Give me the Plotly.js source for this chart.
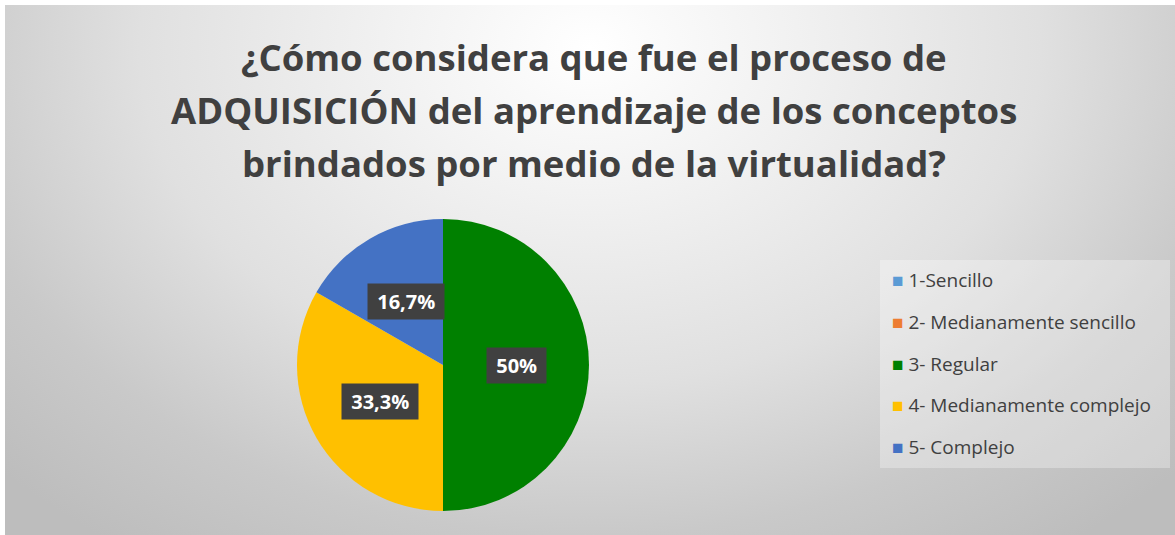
<!DOCTYPE html>
<html>
<head>
<meta charset="utf-8">
<script src="https://cdn.plot.ly/plotly-3.0.1.min.js"></script>
<style>
  html, body { margin: 0; padding: 0; width: 1175px; height: 535px; background: #ffffff; overflow: hidden; }
  #bg { position: absolute; left: 5px; top: 5px; width: 1170px; height: 530px;
        background: radial-gradient(ellipse 70% 115% at 50% 8%, #ffffff 0%, #f3f3f3 22%, #e0e0e0 55%, #c9c9c9 80%, #bdbdbd 100%); }
  #chart { position: absolute; left: 0; top: 0; width: 1175px; height: 535px; }
</style>
</head>
<body>
<div id="bg"></div>
<div id="chart"></div>
<script>
// ---- data ----
const titleLines = [
  "¿Cómo considera que fue el proceso de",
  "ADQUISICIÓN del aprendizaje de los conceptos",
  "brindados por medio de la virtualidad?"
];
const categories = [
  "1-Sencillo",
  "2- Medianamente sencillo",
  "3- Regular",
  "4- Medianamente complejo",
  "5- Complejo"
];
const values = [0, 0, 50, 33.3, 16.7];
const colors = ["#5B9BD5", "#ED7D31", "#008000", "#FFC000", "#4472C4"];

// ---- layout geometry ----
const W = 1175, H = 535;
const domX = [297 / W, 589 / W];
const domY = [(H - 511) / H, (H - 219) / H];

const total = values.reduce((a, b) => a + b, 0);
function fmtPct(v) {
  const p = Math.round(v / total * 1000) / 10;
  let s = p.toFixed(1).replace(".", ",");
  if (s.endsWith(",0")) s = s.slice(0, -2);
  return s + "%";
}

// pie centre / radius in pixels (from the domain)
const cxPx = W * (domX[0] + domX[1]) / 2;
const cyPx = H * (domY[0] + domY[1]) / 2; // measured from bottom
const R = Math.min(W * (domX[1] - domX[0]), H * (domY[1] - domY[0])) / 2;

const annotations = [];
// data labels in dark boxes, placed at slice mid-angles
let cum = 0;
values.forEach((v, i) => {
  if (v > 0) {
    const th = 2 * Math.PI * (cum + v / 2) / total;
    const px = cxPx + 0.5 * R * Math.sin(th);
    const py = cyPx + 0.5 * R * Math.cos(th);
    annotations.push({
      xref: "paper", yref: "paper", x: px / W, y: py / H,
      xanchor: "center", yanchor: "middle", showarrow: false,
      text: "&nbsp;" + fmtPct(v) + "&nbsp;",
      font: { family: "Open Sans", size: 20, color: "#ffffff", weight: "bold" },
      bgcolor: "#404040", borderpad: 4
    });
  }
  cum += v;
});

// title lines
const titleY = [57, 110, 163];
titleLines.forEach((t, i) => {
  annotations.push({
    xref: "paper", yref: "paper", x: 594 / W, y: 1 - titleY[i] / H,
    xanchor: "center", yanchor: "middle", showarrow: false,
    text: t,
    font: { family: "Open Sans", size: 36.5, color: "#404040", weight: "bold" }
  });
});

// legend entries
const legTop = 280, legStep = 41.8;
categories.forEach((c, i) => {
  annotations.push({
    xref: "paper", yref: "paper", x: 890 / W, y: 1 - (legTop + i * legStep) / H,
    xanchor: "left", yanchor: "middle", showarrow: false, align: "left",
    text: '<span style="color:' + colors[i] + ';font-size:19px">■</span> ' + c,
    font: { family: "Open Sans", size: 19, color: "#404040" }
  });
});

const trace = {
  type: "pie",
  labels: categories,
  values: values,
  marker: { colors: colors, line: { width: 0 } },
  sort: false,
  direction: "clockwise",
  rotation: 0,
  textinfo: "none",
  hoverinfo: "label+percent",
  domain: { x: domX, y: domY },
  showlegend: false
};

const layout = {
  width: W, height: H,
  margin: { l: 0, r: 0, t: 0, b: 0 },
  paper_bgcolor: "rgba(0,0,0,0)",
  plot_bgcolor: "rgba(0,0,0,0)",
  showlegend: false,
  annotations: annotations,
  shapes: [{
    type: "rect", xref: "paper", yref: "paper",
    x0: 880 / W, x1: 1170 / W, y0: 1 - 468 / H, y1: 1 - 260 / H,
    fillcolor: "rgba(255,255,255,0.3)", line: { width: 0 }, layer: "below"
  }]
};

Plotly.newPlot("chart", [trace], layout, { staticPlot: true, displayModeBar: false });
</script>
</body>
</html>
